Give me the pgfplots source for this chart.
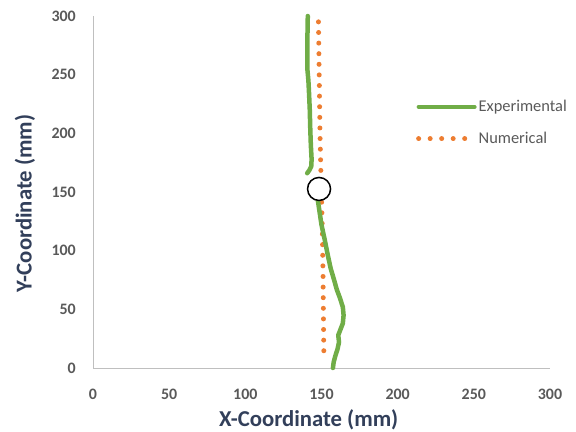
\documentclass[border=0pt]{standalone}
\usepackage{pgfplots}
\pgfplotsset{compat=1.18}
\usepackage{fontspec}
\setmainfont{Carlito}
\definecolor{tickgray}{HTML}{595959}
\definecolor{labelnavy}{HTML}{323F5A}
\definecolor{axgray}{HTML}{BFBFBF}
\definecolor{exgreen}{HTML}{70AD47}
\definecolor{numorange}{HTML}{ED7D31}
\begin{document}
\begin{tikzpicture}
\useasboundingbox (0,0) rectangle (576bp,432bp);
\begin{axis}[
  at={(93bp,64bp)}, anchor=south west,
  scale only axis, width=457bp, height=352bp,
  xmin=0, xmax=300, ymin=0, ymax=300,
  xtick={0,50,100,150,200,250,300},
  ytick={0,50,100,150,200,250,300},
  axis x line=bottom, axis y line=left,
  axis line style={axgray, line width=0.8bp, -},
  major tick length=0pt,
  /pgf/number format/assume math mode=true,
  tick label style={font=\fontsize{16}{18}\selectfont\bfseries, text=tickgray, inner sep=0pt},
  xticklabel style={anchor=center, yshift=-26.5bp},
  yticklabel style={anchor=east, xshift=-17bp},
  xlabel={X-Coordinate (mm)},
  ylabel={Y-Coordinate (mm)},
  label style={font=\fontsize{22.8}{24}\selectfont\bfseries, text=labelnavy},
  xlabel style={at={(axis description cs:0.472,-0.1477)}, anchor=center},
  ylabel style={at={(axis description cs:-0.1488,0.467)}, anchor=center},
  clip=false,
  legend style={
    at={(axis cs:212,229.5)}, anchor=north west,
    draw=none, fill=none, inner sep=0pt,
    font=\fontsize{16.5}{18}\selectfont, text=tickgray,
    row sep=16bp,
    nodes={inner sep=1.5bp},
  },
  legend cell align=left,
]
\addplot[exgreen, line width=4.5bp, line cap=round, line join=round,
  legend image code/.code={\draw[exgreen, line width=4bp, line cap=round] (0bp,0bp) -- (56bp,0bp);}]
  coordinates {
  (141,300) (140.8,285) (140.7,270) (140.7,255) (141.4,245) (141.9,232)
  (142.3,220) (142.6,205) (143,190) (143.5,178) (143.3,172) (142,168.5) (140.6,166)
  };
\addlegendentry{Experimental}
\addplot[numorange, line width=5bp, line cap=round, dash pattern=on 0.01bp off 10.6bp,
  legend image code/.code={\draw[numorange, line width=5bp, line cap=round, dash pattern=on 0.01bp off 11.5bp] (0bp,0bp) -- (56bp,0bp);}]
  coordinates {
  (148,295) (148.5,250) (149,200) (149.8,155) (150.5,120) (151,80) (151.3,40) (151.6,6)
  };
\addlegendentry{Numerical}
\addplot[exgreen, line width=4.5bp, line cap=round, line join=round, forget plot]
  coordinates {
  (147,148) (148.5,135) (150,122) (152,110) (154,97) (156,85) (158.5,74)
  (160,67) (162,60) (164,52) (164.5,45) (164,38) (162.5,33) (161,28)
  (161.5,22) (160.5,16) (159,10) (158,5) (157.5,0)
  };
\addplot[only marks, mark=*, mark size=11.5bp, mark options={fill=white, draw=black, line width=1.5bp}, forget plot]
  coordinates {(148.4,152.6)};
\end{axis}
\end{tikzpicture}
\end{document}
